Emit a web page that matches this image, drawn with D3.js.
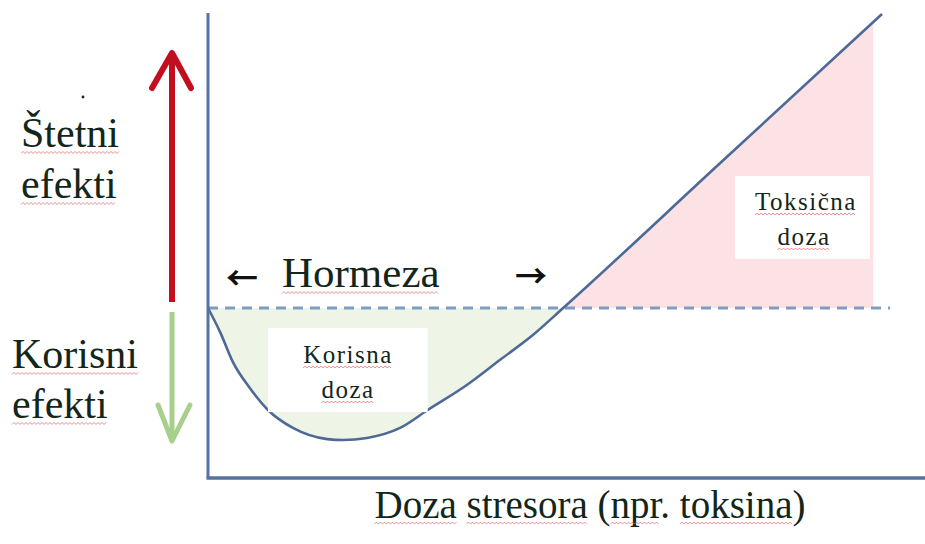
<!DOCTYPE html>
<html>
<head>
<meta charset="utf-8">
<script src="https://cdn.jsdelivr.net/npm/d3@7"></script>
<style>
  body { margin: 0; background: #fff; }
</style>
</head>
<body>
<svg id="chart"></svg>
<script>
// dose-response (hormesis) curve
const doseX   = [0, 0.18, 0.37, 0.62, 0.89, 1.26, 1.77, 2.0, 2.36, 2.85, 3.26, 3.84, 4.33, 4.82, 5.27, 7.6, 10];
const effectY = [0, -0.82, -1.84, -2.72, -3.47, -4.08, -4.46, -4.49, -4.42, -4.08, -3.47, -2.62, -1.77, -0.92, 0, 4.93, 10];
const crossX  = 5.27;   // where the curve meets the no-effect line
const toxicEdge = 9.87;

const leftLabels   = [["Štetni", "efekti"], ["Korisni", "efekti"]];
const benefitLabel = ["Korisna", "doza"];
const toxicLabel   = ["Toksična", "doza"];
const hormLabel    = "Hormeza";
const xLabel       = "Doza stresora (npr. toksina)";

const width = 925, height = 544;
const ink = "#13261a";
const serif = "'Liberation Serif', 'Times New Roman', serif";

const svg = d3.select("#chart").attr("width", width).attr("height", height);

const x = d3.scaleLinear().domain([0, 10]).range([208, 882]);
const y = d3.scaleLinear().domain([0, 10]).range([308, 14]);

const pts = doseX.map((d, i) => ({ x: d, y: effectY[i] }));

const line = d3.line().x(d => x(d.x)).y(d => y(d.y)).curve(d3.curveMonotoneX);
const area = d3.area().x(d => x(d.x)).y0(y(0)).y1(d => y(d.y)).curve(d3.curveMonotoneX);

svg.append("defs").append("clipPath").attr("id", "toxic-clip")
  .append("rect")
  .attr("x", 0).attr("y", 0)
  .attr("width", x(toxicEdge)).attr("height", height);

// shaded zones
svg.append("path")
  .datum(pts.filter(d => d.x <= crossX))
  .attr("d", area)
  .attr("fill", "#eef5e7");

svg.append("path")
  .datum(pts.filter(d => d.x >= crossX))
  .attr("d", area)
  .attr("fill", "#fde2e5")
  .attr("clip-path", "url(#toxic-clip)");

// no-effect line
svg.append("line")
  .attr("x1", x(0)).attr("x2", x(10.12))
  .attr("y1", y(0)).attr("y2", y(0))
  .attr("stroke", "#7f9cc4")
  .attr("stroke-width", 3)
  .attr("stroke-dasharray", "10 7");

// curve
svg.append("path")
  .datum(pts)
  .attr("d", line)
  .attr("fill", "none")
  .attr("stroke", "#4d6a96")
  .attr("stroke-width", 2.6);

// axes (no ticks)
svg.append("line")
  .attr("x1", x(0)).attr("x2", x(0))
  .attr("y1", y(10.03)).attr("y2", y(-5.78))
  .attr("stroke", "#5472a3").attr("stroke-width", 3);
svg.append("line")
  .attr("x1", x(0) - 1.5).attr("x2", width)
  .attr("y1", y(-5.78)).attr("y2", y(-5.78))
  .attr("stroke", "#56719c").attr("stroke-width", 3.5);

// white label boxes
function box(x0, x1, y0, y1) {
  svg.append("rect")
    .attr("x", x(x0)).attr("y", y(y0))
    .attr("width", x(x1) - x(x0)).attr("height", y(y1) - y(y0))
    .attr("fill", "#fff");
}
box(0.89, 3.26, -0.68, -3.54);
box(7.82, 9.82, 4.49, 1.67);

// wavy spell-check underline under every word
function squiggle(sel, off) {
  const node = sel.node();
  const str = node.textContent;
  const re = /\p{L}+/gu;
  let m;
  while ((m = re.exec(str))) {
    const p0 = node.getStartPositionOfChar(m.index);
    const p1 = node.getEndPositionOfChar(m.index + m[0].length - 1);
    const yb = p0.y + off;
    const d = [];
    for (let xx = p0.x, k = 0; xx <= p1.x; xx += 2, k++) {
      d.push([xx, yb + (k % 2 ? -1 : 1)]);
    }
    svg.append("path")
      .attr("d", d3.line()(d))
      .attr("fill", "none")
      .attr("stroke", "#e26a6a")
      .attr("stroke-width", 0.9)
      .attr("opacity", 0.85);
  }
}

function label(txt, px, py, size, anchor, extra) {
  const t = svg.append("text")
    .attr("x", px).attr("y", py)
    .attr("font-size", size)
    .style("font-family", serif)
    .attr("fill", ink)
    .attr("text-anchor", anchor || "start")
    .text(txt);
  if (extra) extra(t);
  squiggle(t, Math.max(4, size * 0.13));
  return t;
}

label(leftLabels[0][0], 21, 147, 42);
label(leftLabels[0][1], 21, 198, 42);
label(leftLabels[1][0], 12, 368, 42);
label(leftLabels[1][1], 12, 418, 42);

const spaced = t => t.attr("letter-spacing", 1.5);
label(benefitLabel[0], 348, 363, 25, "middle", spaced);
label(benefitLabel[1], 348, 398, 25, "middle", spaced);
label(toxicLabel[0], 806, 210, 25, "middle", spaced);
label(toxicLabel[1], 804, 245, 25, "middle", spaced);

label(hormLabel, 282, 287, 43);
label(xLabel, 590, 518, 39, "middle");

const arrowFont = "'Noto Sans CJK SC', 'DejaVu Sans', sans-serif";
svg.append("text").attr("x", 242).attr("y", 279).attr("dy", "0.35em")
  .attr("text-anchor", "middle").attr("font-size", 32).attr("font-weight", 700)
  .style("font-family", arrowFont).attr("fill", "#111").text("←");
svg.append("text").attr("x", 531).attr("y", 277).attr("dy", "0.35em")
  .attr("text-anchor", "middle").attr("font-size", 32).attr("font-weight", 700)
  .style("font-family", arrowFont).attr("fill", "#111").text("→");

// harmful / beneficial arrows on the left
svg.append("line")
  .attr("x1", 172).attr("x2", 172).attr("y1", 302).attr("y2", 55)
  .attr("stroke", "#c20f20").attr("stroke-width", 6);
svg.append("path")
  .attr("d", "M152,88L172,53L191,88")
  .attr("fill", "none").attr("stroke", "#c20f20").attr("stroke-width", 6)
  .attr("stroke-linecap", "round").attr("stroke-linejoin", "round");

svg.append("line")
  .attr("x1", 172).attr("x2", 172).attr("y1", 312).attr("y2", 440)
  .attr("stroke", "#a8d08c").attr("stroke-width", 5);
svg.append("path")
  .attr("d", "M158,405L172,441L190,405")
  .attr("fill", "none").attr("stroke", "#a8d08c").attr("stroke-width", 5)
  .attr("stroke-linecap", "round").attr("stroke-linejoin", "round");

// stray speck in the source image
svg.append("circle").attr("cx", 83).attr("cy", 97).attr("r", 1.4).attr("fill", "#222");
</script>
</body>
</html>
